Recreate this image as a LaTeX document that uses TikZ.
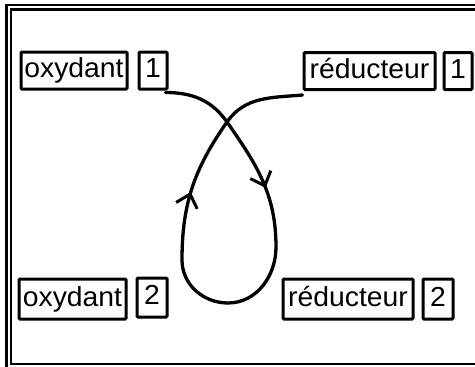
\documentclass[tikz,border=0pt]{standalone}
\usepackage{fontspec}
\setmainfont{Liberation Sans}[FakeStretch=1.03]
\usetikzlibrary{arrows.meta,decorations.markings}
\begin{document}
\begin{tikzpicture}[x=1pt,y=-1pt,
  lbl/.style={draw, line width=3pt, rounded corners=1pt, inner sep=0pt,
    font=\fontsize{27.5}{30}\selectfont, text height=20pt, text depth=5.5pt,
    minimum height=37pt},
  frameline/.style={line width=2.2pt},
  loop/.style={line width=3.3pt, line cap=round,
    postaction={decorate, decoration={markings,
      mark=at position 0.25 with {\arrow[line width=3pt]{Straight Barb[length=12pt,width=22pt]}},
      mark=at position 0.725 with {\arrow[line width=3pt]{Straight Barb[length=12pt,width=22pt]}}}}}]
  \useasboundingbox (0,0) rectangle (475,367);
  \clip (0,0) rectangle (475,367);

  % double frame
  \draw[frameline] (6.5,5) rectangle (490,380);
  \draw[frameline] (11,9.5) rectangle (490,364);

  % couples
  \node[lbl, minimum width=106pt] (ox1) at (74,70.5) {oxydant};
  \node[lbl, minimum width=28pt]  (n1)  at (153,70.5) {1};
  \node[lbl, minimum width=131pt] (red1) at (369.5,71) {réducteur};
  \node[lbl, minimum width=28pt]  (m1)  at (458,71) {1};

  \node[lbl, minimum width=107pt, minimum height=40pt] (ox2) at (72.5,299) {oxydant};
  \node[lbl, minimum width=30pt,  minimum height=39pt] (n2)  at (152,297.5) {2};
  \node[lbl, minimum width=130pt, minimum height=40pt] (red2) at (348,299) {réducteur};
  \node[lbl, minimum width=30pt,  minimum height=40pt] (m2)  at (438,299) {2};

  % exchange loop
  \coordinate (cross) at (227,122);
  \coordinate (rgt) at (276,247);
  \coordinate (bot) at (228,303);
  \coordinate (lft) at (182,260);
  \coordinate (endp) at ([yshift=-4pt]red1.south west);
  \draw[loop] ([xshift=-3pt,yshift=-2pt]n1.south east)
    to[out=0,in=125] (cross)
    to[out=-55,in=90] (rgt)
    to[out=-90,in=0] (bot)
    to[out=180,in=-90] (lft)
    to[out=90,in=-125] (cross)
    to[out=55,in=185] (endp);
\end{tikzpicture}
\end{document}
